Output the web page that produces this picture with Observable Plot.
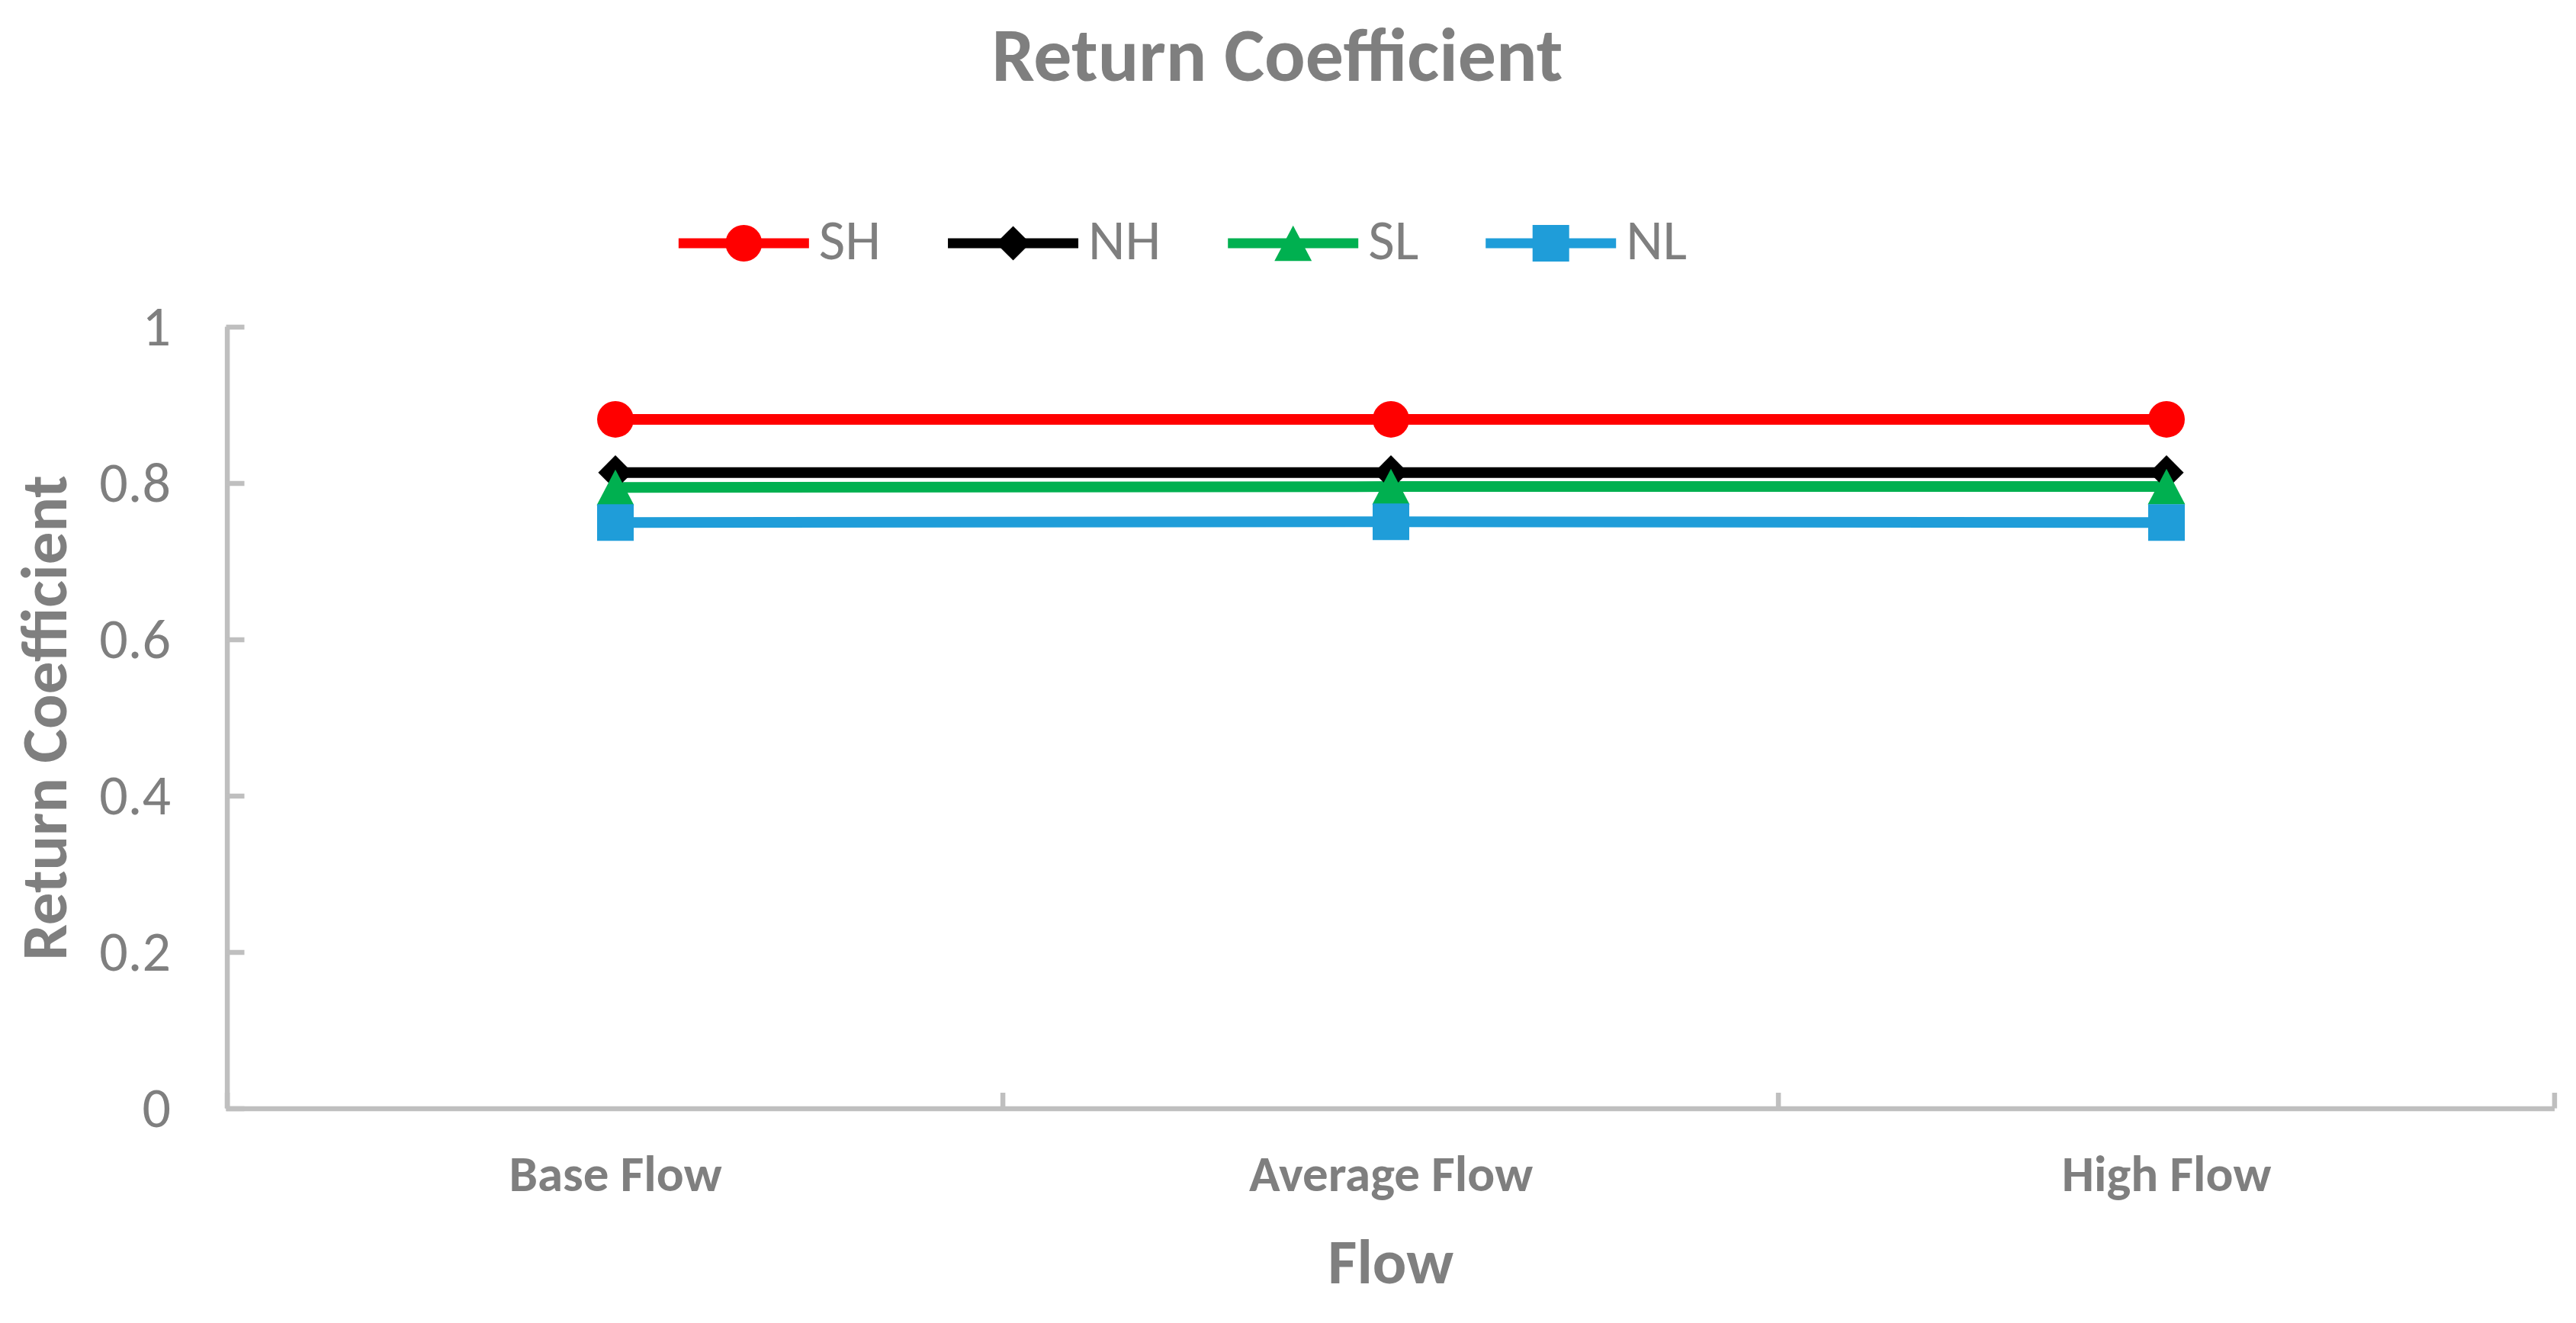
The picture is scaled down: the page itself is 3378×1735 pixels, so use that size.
<!DOCTYPE html>
<html>
<head>
<meta charset="utf-8">
<script src="https://cdn.jsdelivr.net/npm/d3@7"></script>
<script src="https://cdn.jsdelivr.net/npm/@observablehq/plot@0.6"></script>
<style>
  html, body { margin: 0; padding: 0; background: #ffffff; }
  #wrap { position: relative; width: 3378px; height: 1735px; overflow: hidden; background: #fff; }
  #chart, #overlay { position: absolute; left: 0; top: 0; }
  #overlay { pointer-events: none; }
</style>
</head>
<body>
<div id="wrap">
  <div id="chart"></div>
  <svg id="overlay" width="3378" height="1735"></svg>
</div>
<script>
// ---------------- data ----------------
const categories = ["Base Flow", "Average Flow", "High Flow"];
const seriesNames = ["SH", "NH", "SL", "NL"];
const seriesColors = ["#ff0000", "#000000", "#00b050", "#1f9dd9"];
const seriesSymbols = ["circle", "diamond", "triangle", "square"];
const SH = [0.882, 0.882, 0.882];
const NH = [0.814, 0.814, 0.814];
const SL = [0.795, 0.796, 0.796];
const NL = [0.750, 0.751, 0.750];
const yTicks = [0, 0.2, 0.4, 0.6, 0.8, 1];
const yTickLabels = ["0", "0.2", "0.4", "0.6", "0.8", "1"];
const titleText = "Return Coefficient";
const xTitle = "Flow";
const yTitle = "Return Coefficient";

// ---------------- style / layout ----------------
const FONT = "Carlito, Calibri, Lato, 'Open Sans', sans-serif";
const TEXT = "#7f7f7f";
const AXIS = "#bfbfbf";
const W = 3378, H = 1735;
const mL = 296.5, mR = 28, mT = 428.5, mB = 281.5;
const bw = (W - mL - mR) / categories.length;
const R = 24;

const seriesValues = [SH, NH, SL, NL];
const data = seriesNames.flatMap((s, i) =>
  categories.map((c, j) => ({series: s, flow: c, value: seriesValues[i][j]})));

// marker shapes (Excel-like)
const shapes = {
  circle: {draw(ctx, size) { const r = Math.sqrt(size / Math.PI); ctx.moveTo(r, 0); ctx.arc(0, 0, r, 0, 2 * Math.PI); ctx.closePath(); }},
  diamond: {draw(ctx, size) { const r = Math.sqrt(size / Math.PI), h = 0.94 * r; ctx.moveTo(0, -h); ctx.lineTo(h, 0); ctx.lineTo(0, h); ctx.lineTo(-h, 0); ctx.closePath(); }},
  triangle: {draw(ctx, size) { const r = Math.sqrt(size / Math.PI); ctx.moveTo(0, -0.97 * r); ctx.lineTo(1.02 * r, 0.97 * r); ctx.lineTo(-1.02 * r, 0.97 * r); ctx.closePath(); }},
  square: {draw(ctx, size) { const r = Math.sqrt(size / Math.PI); ctx.rect(-r, -r, 2 * r, 2 * r); }}
};

const chart = Plot.plot({
  width: W, height: H,
  marginLeft: mL, marginRight: mR, marginTop: mT, marginBottom: mB,
  style: {fontFamily: FONT, background: "transparent", color: TEXT},
  x: {type: "band", domain: categories, padding: 0, label: null},
  y: {domain: [0, 1], label: null},
  color: {domain: seriesNames, range: seriesColors},
  symbol: {domain: seriesNames, range: seriesSymbols.map(n => shapes[n])},
  marks: [
    // category boundary tick marks (inside, pointing up)
    Plot.ruleX(categories, {x: d => d, dx: -bw / 2, y1: 0, y2: 0.02, stroke: AXIS, strokeWidth: 6.5}),
    Plot.ruleX([categories[categories.length - 1]], {x: d => d, dx: bw / 2, y1: 0, y2: 0.02, stroke: AXIS, strokeWidth: 6.5}),
    // y axis line
    Plot.ruleX([categories[0]], {x: d => d, dx: -bw / 2, stroke: AXIS, strokeWidth: 6.5}),
    // x axis line
    Plot.ruleY([0], {stroke: AXIS, strokeWidth: 6.5}),
    Plot.axisY(yTicks, {
      tickSize: -24, tickPadding: 97, stroke: AXIS, strokeWidth: 6.5,
      tickFormat: d => yTickLabels[yTicks.indexOf(d)],
      fontSize: 74, fill: TEXT, label: null
    }),
    Plot.axisX({tickSize: 0, tickPadding: 60, fontSize: 67, fontWeight: "bold", fill: TEXT, label: null}),
    Plot.text([yTitle], {text: d => d, frameAnchor: "left", rotate: -90, dx: -237, textAnchor: "middle", lineAnchor: "middle",
      fontSize: 85, fontWeight: "bold", fill: TEXT}),
    Plot.text([xTitle], {text: d => d, frameAnchor: "bottom", dy: 202, textAnchor: "middle", lineAnchor: "middle",
      fontSize: 83, fontWeight: "bold", fill: TEXT}),
    Plot.line(data, {x: "flow", y: "value", z: "series", stroke: "series", strokeWidth: 14}),
    Plot.dot(data, {x: "flow", y: "value", fill: "series", stroke: null, symbol: "series", r: R})
  ]
});
document.getElementById("chart").appendChild(chart);

// ---------------- title + legend (above the plot area) ----------------
const ov = d3.select("#overlay").style("font-family", FONT);
ov.append("text")
  .attr("x", 1675).attr("y", 106)
  .attr("text-anchor", "middle")
  .attr("font-size", 100).attr("font-weight", "bold")
  .attr("fill", TEXT)
  .text(titleText);

const legendCenter = 1551, legendLineY = 319, legendBaseline = 340;
const lineLen = 171, textGap = 13, itemGap = 88;
const items = seriesNames.map((name, i) => {
  const g = ov.append("g");
  g.append("line").attr("x1", 0).attr("x2", lineLen).attr("y1", legendLineY).attr("y2", legendLineY)
    .attr("stroke", seriesColors[i]).attr("stroke-width", 13);
  g.append("path").attr("transform", `translate(${lineLen / 2},${legendLineY})`)
    .attr("d", d3.symbol(shapes[seriesSymbols[i]], R * R * Math.PI)())
    .attr("fill", seriesColors[i]);
  const t = g.append("text").attr("x", lineLen + textGap).attr("y", legendBaseline)
    .attr("font-size", 75).attr("fill", TEXT).text(name);
  const w = lineLen + textGap + t.node().getComputedTextLength();
  return {g, w};
});
const total = d3.sum(items, d => d.w) + itemGap * (items.length - 1);
let x0 = legendCenter - total / 2;
for (const it of items) { it.g.attr("transform", `translate(${x0},0)`); x0 += it.w + itemGap; }
</script>
</body>
</html>
